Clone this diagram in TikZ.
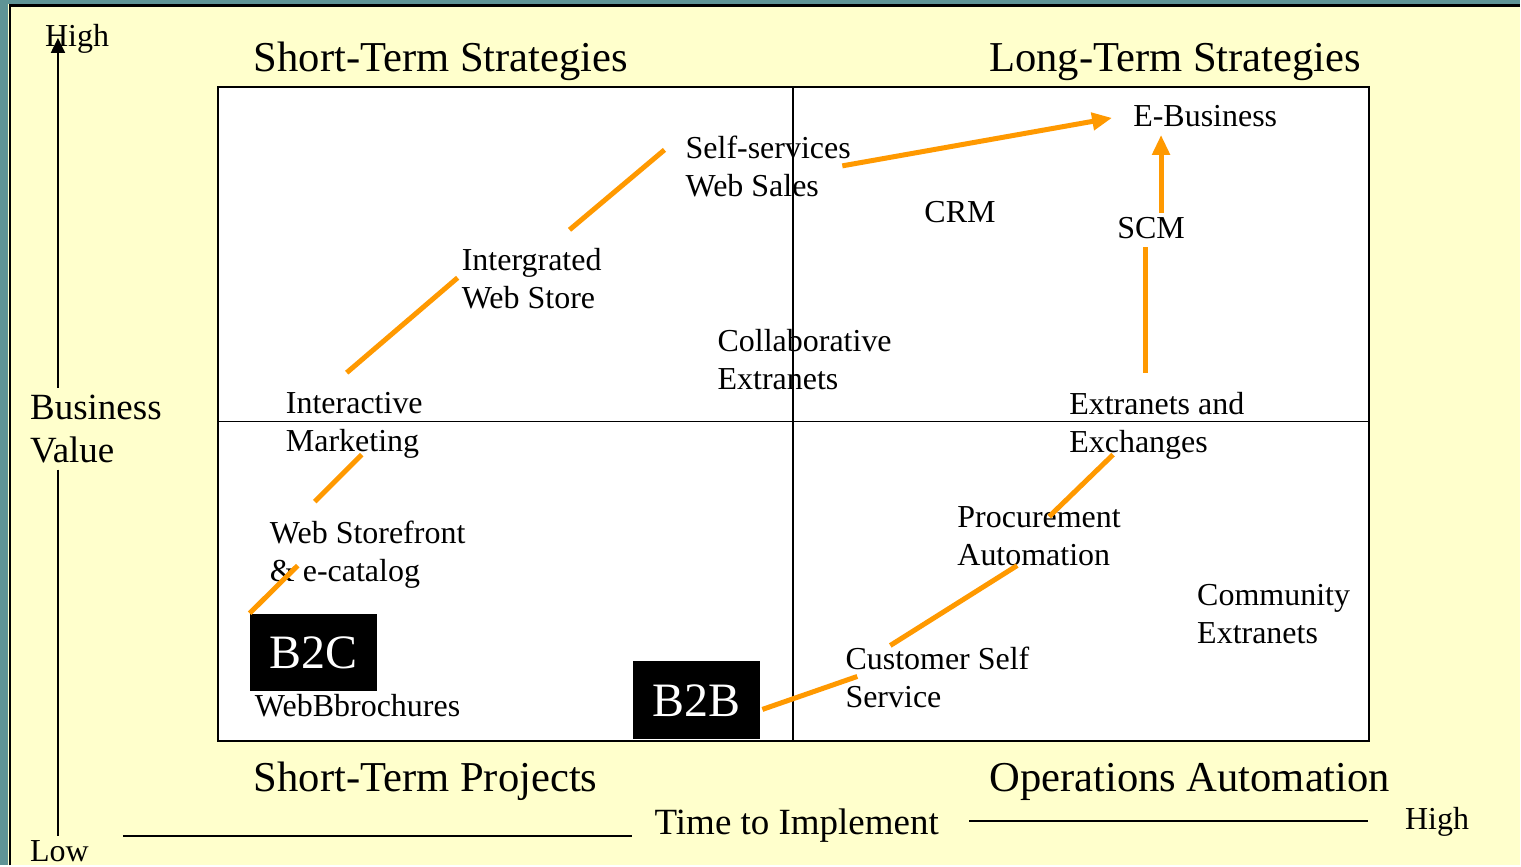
\documentclass[tikz,border=0pt]{standalone}
\usepackage{fontspec}
\setmainfont{Liberation Serif}
\usetikzlibrary{arrows.meta}

\definecolor{paper}{RGB}{255,255,204}
\definecolor{slate}{RGB}{95,148,150}
\definecolor{trend}{RGB}{255,153,0}

\tikzset{
  item/.style={anchor=base west, inner sep=0pt, align=left, font=\fontsize{32}{38}\selectfont},
  head/.style={anchor=base west, inner sep=0pt, font=\fontsize{42.6}{48}\selectfont},
  axislbl/.style={anchor=base west, inner sep=0pt, align=left, font=\fontsize{37}{43}\selectfont},
  tag/.style={fill=black, text=white, inner sep=0pt, minimum width=127pt, minimum height=78pt, font=\fontsize{48}{52}\selectfont},
  route/.style={trend, line width=5pt},
}

\begin{document}
\begin{tikzpicture}[x=1pt, y=-1pt]
            % slide background
            \fill[paper] (0,0) rectangle (1521,866);
            \fill[slate] (0,0) rectangle (8.5,866);
            \fill[slate] (0,0) rectangle (1521,4.5);
            \draw[black, line width=2.5pt] (9.8,866) -- (9.8,5.7) -- (1521,5.7);

            % quadrants
            \draw[black, line width=2pt, fill=white] (218,87) rectangle (1370,742);
            \draw[black, line width=1.5pt] (793.5,87) -- (793.5,742);
            \draw[black, line width=1.5pt] (218,422) -- (1370,422);

            \node[head] (sts) at (254,72) {Short-Term Strategies};
            \node[head] (lts) at (990,72) {Long-Term Strategies};
            \node[head] (stp) at (254,792) {Short-Term Projects};
            \node[head] (opa) at (990,792) {Operations Automation};

            % axes (two-line labels sit on their last baseline)
            \node[item] (vhigh) at (45,47) {High};
            \node[item] (vlow) at (30,862) {Low};
            \node[axislbl] (bv) at (30,463) {Business\\Value};
            \node[axislbl] (tti) at (655,835) {Time to Implement};
            \node[item] (hhigh) at (1406,830) {High};
            \coordinate (vtop) at (58,38);
            \coordinate (vmid) at (58,388);
            \coordinate (vmid2) at (58,470);
            \coordinate (vbot) at (58,837);
            \draw[black, line width=2pt, -{Triangle[length=15pt, width=14pt]}] (vmid) -- (vtop);
            \draw[black, line width=2pt] (vmid2) -- (vbot);
            \draw[black, line width=2pt] (123,837) -- (633,837);
            \draw[black, line width=2pt] (970,822) -- (1369,822);

            % stages
            \node[item] (ssw) at (686,197) {Self-services\\Web Sales};
            \node[item] (eb) at (1134,127) {E-Business};
            \node[item] (crm) at (925,223) {CRM};
            \node[item] (scm) at (1118,239) {SCM};
            \node[item] (iws) at (462,309) {Intergrated\\Web Store};
            \node[item] (cex) at (718,390) {Collaborative\\Extranets};
            \node[item] (imk) at (286,452) {Interactive\\Marketing};
            \node[item] (exc) at (1070,453) {Extranets and\\Exchanges};
            \node[item] (wsf) at (270,582) {Web Storefront\\\& e-catalog};
            \node[item] (pra) at (958,566) {Procurement\\Automation};
            \node[item] (cmx) at (1198,644) {Community\\Extranets};
            \node[item] (css) at (846,708) {Customer Self\\Service};
            \node[item] (wbb) at (255,717) {WebBbrochures};
            \node[tag] (b2c) at (313.5,653) {B2C};
            \node[tag] (b2b) at (697.5,701) {B2B};

            % paths between stages
            \coordinate (b2c-b) at (298,566);
            \coordinate (wsf-a) at (315,502);
            \coordinate (wsf-b) at (362,455);
            \coordinate (imk-a) at (347,373);
            \coordinate (imk-b) at (458,278);
            \coordinate (iws-a) at (570,230);
            \coordinate (iws-b) at (665,150);
            \coordinate (ssw-a) at (843,166);
            \coordinate (ssw-b) at (1113,118);
            \coordinate (exc-a) at (1146,373);
            \coordinate (exc-b) at (1146,247);
            \coordinate (scm-a) at (1162,213);
            \coordinate (scm-b) at (1162,135);
            \coordinate (b2b-a) at (763,710);
            \coordinate (b2b-b) at (858,677);
            \coordinate (css-a) at (891,646);
            \coordinate (css-b) at (1018,566);
            \coordinate (pra-a) at (1050,517);
            \coordinate (pra-b) at (1114,455);

            \draw[route] (b2c.north west) -- (b2c-b);
            \draw[route] (wsf-a) -- (wsf-b);
            \draw[route] (imk-a) -- (imk-b);
            \draw[route] (iws-a) -- (iws-b);
            \draw[route, -{Triangle[length=20pt, width=17pt]}] (ssw-a) -- (ssw-b);
            \draw[route] (exc-a) -- (exc-b);
            \draw[route, -{Triangle[length=20pt, width=17pt]}] (scm-a) -- (scm-b);
            \draw[route] (b2b-a) -- (b2b-b);
            \draw[route] (css-a) -- (css-b);
            \draw[route] (pra-a) -- (pra-b);
        \end{tikzpicture}
\end{document}
